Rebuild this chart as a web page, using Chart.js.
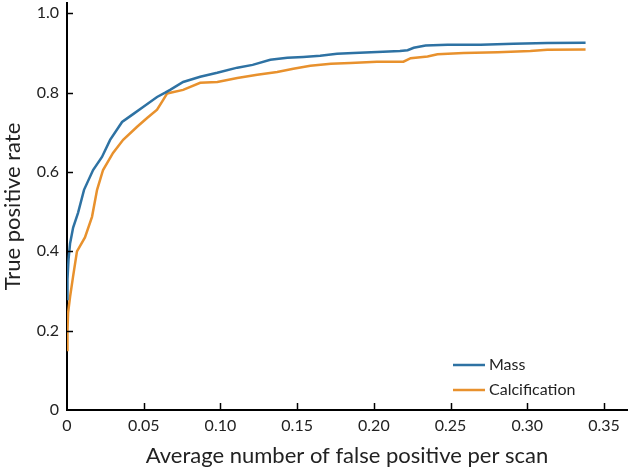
<!DOCTYPE html>
<html>
<head>
<meta charset="utf-8">
<script src="https://cdn.jsdelivr.net/npm/chart.js@4/dist/chart.umd.min.js"></script>
<style>
  html, body { margin: 0; padding: 0; background: #fff; }
  #wrap { width: 630px; height: 469px; position: relative; }
</style>
</head>
<body>
<div id="wrap"><canvas id="roc"></canvas></div>
<script>
const SERIES_NAMES = ['Mass', 'Calcification'];
const X_TICKS = [0, 0.05, 0.10, 0.15, 0.20, 0.25, 0.30, 0.35];
const Y_TICKS = [0, 0.2, 0.4, 0.6, 0.8, 1.0];

// Mass curve (false positives per scan, true positive rate)
const massFp  = [0, 0.0003, 0.001, 0.002, 0.004, 0.0072, 0.0111, 0.017, 0.0228, 0.0281, 0.0359, 0.0424, 0.0496,
                 0.0587, 0.064, 0.0672, 0.0757, 0.0868, 0.0979, 0.111, 0.121, 0.1325, 0.1436, 0.154, 0.165, 0.176,
                 0.1867, 0.206, 0.217, 0.222, 0.226, 0.2337, 0.248, 0.2696, 0.291, 0.313, 0.338];
const massTpr = [0.28, 0.33, 0.38, 0.42, 0.46, 0.497, 0.555, 0.605, 0.638, 0.681, 0.726, 0.744, 0.764,
                 0.789, 0.800, 0.807, 0.827, 0.840, 0.850, 0.863, 0.870, 0.883, 0.888, 0.890, 0.893, 0.898,
                 0.900, 0.903, 0.905, 0.907, 0.913, 0.919, 0.921, 0.921, 0.923, 0.925, 0.926];

// Calcification curve
const calcFp  = [0, 0.0003, 0.0007, 0.002, 0.0039, 0.0065, 0.0117, 0.0163, 0.0196, 0.0235, 0.030, 0.0366,
                 0.0457, 0.0522, 0.0587, 0.0627, 0.0653, 0.0757, 0.0868, 0.098, 0.111, 0.124, 0.137, 0.1475,
                 0.1586, 0.172, 0.1847, 0.202, 0.2193, 0.224, 0.235, 0.2415, 0.2585, 0.2807, 0.302, 0.313, 0.338];
const calcTpr = [0.151, 0.20, 0.245, 0.285, 0.335, 0.40, 0.435, 0.487, 0.555, 0.605, 0.648, 0.681,
                 0.714, 0.736, 0.757, 0.782, 0.798, 0.807, 0.825, 0.827, 0.837, 0.845, 0.852, 0.860,
                 0.868, 0.873, 0.875, 0.878, 0.878, 0.887, 0.891, 0.897, 0.900, 0.902, 0.905, 0.908, 0.909];

const COLORS = ['#2e72a3', '#e8912d'];
const FONT = 'Lato, "Open Sans", sans-serif';
const TEXT = '#222';

function pts(xs, ys) {
  return xs.map((x, i) => ({ x, y: ys[i] }));
}

// ticks drawn inward from the axis lines, legend drawn in the lower right of the plot
const axisExtras = {
  id: 'axisExtras',
  afterDraw(chart) {
    const { ctx, chartArea } = chart;
    const xs = chart.scales.x, ys = chart.scales.y;
    ctx.save();
    ctx.strokeStyle = '#000';
    ctx.lineWidth = 1.5;
    X_TICKS.forEach(v => {
      const px = Math.round(xs.getPixelForValue(v)) + 0.5;
      if (v === 0) return;
      ctx.beginPath();
      ctx.moveTo(px, chartArea.bottom);
      ctx.lineTo(px, chartArea.bottom - 7);
      ctx.stroke();
    });
    Y_TICKS.forEach(v => {
      const py = Math.round(ys.getPixelForValue(v)) + 0.5;
      if (v === 0) return;
      ctx.beginPath();
      ctx.moveTo(chartArea.left, py);
      ctx.lineTo(chartArea.left + 6, py);
      ctx.stroke();
    });

    ctx.font = '16px ' + FONT;
    ctx.textBaseline = 'middle';
    ctx.textAlign = 'left';
    SERIES_NAMES.forEach((name, i) => {
      const y = 365 + i * 25;
      ctx.strokeStyle = chart.data.datasets[i].borderColor;
      ctx.lineWidth = 2.5;
      ctx.beginPath();
      ctx.moveTo(453, y);
      ctx.lineTo(485, y);
      ctx.stroke();
      ctx.fillStyle = TEXT;
      ctx.fillText(name, 489, y);
    });
    ctx.restore();
  }
};

new Chart(document.getElementById('roc'), {
  type: 'line',
  data: {
    datasets: [
      { label: SERIES_NAMES[0], data: pts(massFp, massTpr), borderColor: COLORS[0], borderWidth: 2.5, pointRadius: 0, tension: 0, fill: false },
      { label: SERIES_NAMES[1], data: pts(calcFp, calcTpr), borderColor: COLORS[1], borderWidth: 2.5, pointRadius: 0, tension: 0, fill: false }
    ]
  },
  options: {
    responsive: true,
    maintainAspectRatio: false,
    animation: false,
    layout: { padding: { top: 3, right: 3, left: 0, bottom: 0 } },
    plugins: { legend: { display: false }, tooltip: { enabled: false } },
    scales: {
      x: {
        type: 'linear',
        min: 0,
        max: 0.365,
        afterBuildTicks: s => { s.ticks = X_TICKS.map(v => ({ value: v })); },
        afterFit: s => { s.height = 59; s.paddingLeft = 0; s.paddingRight = 0; },
        grid: { drawOnChartArea: false, drawTicks: false },
        border: { display: true, color: '#000', width: 2 },
        ticks: {
          padding: 6,
          color: TEXT,
          font: { family: FONT, size: 16 },
          maxRotation: 0,
          callback: v => v === 0 ? '0' : v.toFixed(2)
        },
        title: {
          display: true,
          text: 'Average number of false positive per scan',
          color: TEXT,
          font: { family: FONT, size: 22 },
          padding: { top: 0, bottom: 0 }
        }
      },
      y: {
        min: 0,
        max: 1.026,
        afterBuildTicks: s => { s.ticks = Y_TICKS.map(v => ({ value: v })); },
        afterFit: s => { s.width = 67; s.paddingTop = 0; s.paddingBottom = 0; },
        grid: { drawOnChartArea: false, drawTicks: false },
        border: { display: true, color: '#000', width: 2 },
        ticks: {
          padding: 8,
          color: TEXT,
          font: { family: FONT, size: 16 },
          callback: v => v === 0 ? '0' : v.toFixed(1)
        },
        title: {
          display: true,
          text: 'True positive rate',
          color: TEXT,
          font: { family: FONT, size: 22 },
          padding: { top: 0, bottom: 0 }
        }
      }
    }
  },
  plugins: [axisExtras]
});
</script>
</body>
</html>
